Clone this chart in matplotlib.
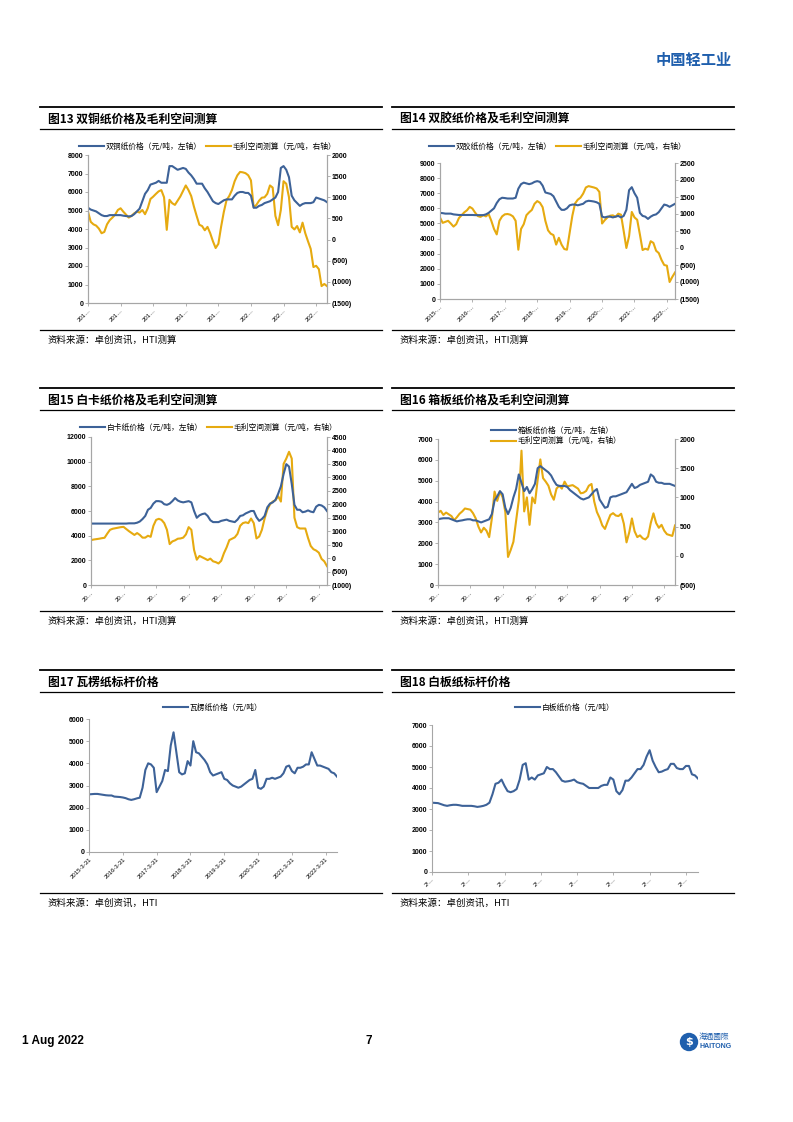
import numpy as np
import matplotlib
matplotlib.use("Agg")
import matplotlib.pyplot as plt
from matplotlib.lines import Line2D
from matplotlib.patches import Ellipse
from matplotlib.ticker import MultipleLocator, FuncFormatter

plt.rcParams['font.family'] = ['Noto Sans CJK SC', 'DejaVu Sans']

# monthly data, 2015-03 .. 2022-07 (元/吨)
c13_price = [5150, 5050, 5000, 4950, 4850, 4750, 4700, 4700, 4750, 4750, 4750, 4750, 4750, 4720, 4700,
             4680, 4700, 4800, 4950, 5100, 5500, 5900, 6100, 6400, 6450, 6500, 6600, 6500, 6500, 6500,
             7400, 7400, 7300, 7200, 7250, 7300, 7250, 7050, 6900, 6700, 6450, 6450, 6450, 6200, 6000,
             5750, 5500, 5400, 5350, 5450, 5550, 5600, 5600, 5600, 5800, 5950, 6000, 6000, 5950, 5950,
             5800, 5150, 5150, 5250, 5300, 5400, 5450, 5500, 5600, 5700, 6000, 7300, 7400, 7200, 6800,
             5800, 5550, 5400, 5250, 5350, 5400, 5400, 5400, 5450, 5700, 5650, 5600, 5550, 5450]
c13_margin = [660, 420, 360, 330, 260, 150, 180, 360, 460, 520, 590, 700, 740, 660, 590,
              520, 560, 620, 660, 640, 700, 600, 740, 960, 1015, 1080, 1140, 1170, 1000, 230,
              940, 860, 820, 920, 1020, 1150, 1280, 1170, 1030, 780, 560, 350, 320, 220, 300,
              150, -40, -200, -100, 300, 650, 930, 1030, 1170, 1380, 1520, 1600, 1590, 1570, 1520,
              1400, 760, 820, 920, 990, 1000, 1080, 1280, 1230, 560, 340, 700, 1380, 1320, 1000,
              300, 240, 320, 170, 400, 150, -40, -220, -650, -620, -700, -1100, -1050, -1100]

c14_price = [5700, 5680, 5650, 5650, 5650, 5600, 5580, 5560, 5560, 5560, 5560, 5560, 5560, 5550, 5550,
             5550, 5550, 5600, 5700, 5850, 6000, 6350, 6600, 6700, 6680, 6650, 6650, 6650, 6700, 7300,
             7600, 7700, 7650, 7600, 7650, 7750, 7800, 7750, 7500, 7050, 7000, 6950, 6800, 6450, 6100,
             5900, 5900, 6000, 6200, 6250, 6250, 6200, 6250, 6300, 6450, 6500, 6480, 6450, 6400, 6300,
             5450, 5400, 5450, 5450, 5400, 5450, 5500, 5400, 5500, 5900, 7200, 7400, 7000, 6700, 5700,
             5500, 5450, 5300, 5450, 5550, 5600, 5750, 6000, 6250, 6200, 6100, 6200, 6300]
c14_margin = [896, 740, 770, 800, 720, 630, 700, 880, 965, 1050, 1110, 1210, 1160, 1040, 940,
              915, 965, 930, 1000, 800, 560, 400, 800, 930, 990, 1000, 980, 930, 800, -50,
              560, 700, 965, 1050, 1120, 1300, 1380, 1330, 1200, 800, 520, 420, 380, 100, 300,
              100, -30, -50, 450, 950, 1310, 1420, 1480, 1600, 1780, 1820, 1800, 1780, 1750, 1650,
              720, 820, 900, 950, 960, 915, 1010, 980, 500, 0, 350, 1060, 900, 830, 400,
              -60, -20, -50, 200, 150, -80, -150, -350, -500, -520, -1000, -850, -720]

c15_price = [4980, 4980, 4980, 4980, 4980, 4980, 4980, 4980, 4980, 4980, 4980, 4980, 4980, 4980, 5000,
             5000, 5000, 5050, 5150, 5350, 5600, 6100, 6250, 6600, 6800, 6800, 6750, 6550, 6500, 6600,
             6800, 7050, 6850, 6750, 6700, 6750, 6800, 6700, 6000, 5450, 5650, 5750, 5800, 5600, 5250,
             5100, 5100, 5100, 5200, 5250, 5300, 5200, 5150, 5100, 5300, 5600, 5650, 5800, 5900, 6000,
             6000, 5500, 5200, 5350, 5600, 6300, 6600, 6700, 6900, 7400, 8000, 9000, 9800, 9600, 8200,
             6500, 6100, 6100, 5900, 5950, 6050, 5950, 5900, 6350, 6500, 6450, 6300, 6000]
c15_margin = [668, 690, 705, 720, 740, 755, 910, 1050, 1090, 1110, 1130, 1150, 1160, 1080, 1000,
              930, 860, 930, 860, 760, 760, 830, 790, 1200, 1420, 1460, 1420, 1300, 1050, 520,
              620, 660, 720, 730, 760, 880, 1150, 1050, 300, -60, 80, 30, -20, -75, -20,
              -120, -150, -200, -100, 180, 400, 670, 720, 770, 900, 1200, 1300, 1330, 1300, 1470,
              1300, 730, 800, 1050, 1470, 1800, 2000, 2100, 2150, 2300, 2100, 3500, 3700, 3950, 3700,
              1500, 1150, 1100, 1100, 1100, 750, 450, 330, 280, 200, -30, -120, -300]

c16_price = [3150, 3180, 3200, 3200, 3200, 3150, 3100, 3050, 3080, 3100, 3130, 3150, 3150, 3100, 3100,
             3050, 3000, 3050, 3100, 3150, 3400, 4050, 4250, 4500, 4350, 3700, 3400, 3700, 4200, 4600,
             5300, 4900, 4500, 4700, 4400, 4600, 4850, 5600, 5700, 5600, 5500, 5400, 5250, 5000, 4800,
             4750, 4750, 4750, 4700, 4550, 4450, 4350, 4250, 4150, 4100, 4150, 4200, 4350, 4500, 4600,
             4100, 3900, 3700, 3750, 4200, 4250, 4250, 4300, 4350, 4400, 4450, 4650, 4850, 4650, 4700,
             4800, 4850, 4900, 4950, 5300, 5200, 4950, 4900, 4900, 4850, 4850, 4850, 4800, 4750]
c16_margin = [740, 770, 700, 740, 710, 680, 610, 660, 720, 760, 810, 800, 790, 730, 640,
              500, 400, 480, 430, 320, 640, 1100, 940, 1100, 1000, 750, -20, 100, 240, 600,
              950, 1800, 760, 1000, 530, 1000, 900, 1300, 1650, 1330, 1270, 1200, 1050, 960, 1150,
              1200, 1150, 1270, 1190, 1200, 1210, 1180, 1150, 1070, 1080, 1110, 1200, 1230, 930, 750,
              650, 520, 460, 585, 700, 730, 690, 680, 720, 550, 230, 400, 640, 420, 320,
              350, 300, 280, 330, 560, 727, 560, 480, 530, 430, 370, 355, 340, 520]

c17_price = [2600, 2610, 2620, 2620, 2600, 2580, 2560, 2550, 2550, 2500, 2490, 2480, 2460, 2430, 2380,
             2350, 2380, 2420, 2450, 2900, 3700, 4000, 3950, 3800, 2700, 2950, 3200, 3700, 3650, 4800,
             5400, 4500, 3600, 3500, 3550, 4100, 3900, 5000, 4500, 4450, 4300, 4150, 3950, 3600, 3450,
             3500, 3550, 3600, 3300, 3250, 3100, 3000, 2950, 2900, 2950, 3050, 3150, 3250, 3300, 3700,
             2900, 2850, 2950, 3300, 3300, 3350, 3300, 3350, 3400, 3550, 3850, 3900, 3650, 3550, 3800,
             3800, 3850, 3950, 3950, 4500, 4200, 3900, 3900, 3850, 3800, 3750, 3600, 3550, 3400]

c18_price = [3300, 3290, 3280, 3230, 3180, 3150, 3180, 3200, 3200, 3180, 3150, 3150, 3150, 3150, 3130,
             3100, 3120, 3150, 3200, 3300, 3700, 4200, 4250, 4400, 4100, 3850, 3800, 3850, 3950, 4400,
             5100, 5180, 4400, 4500, 4400, 4600, 4650, 4700, 5000, 4900, 4900, 4750, 4550, 4350, 4300,
             4320, 4350, 4400, 4280, 4230, 4200, 4100, 4000, 4000, 4000, 4000, 4100, 4150, 4150, 4500,
             4400, 3850, 3700, 3900, 4350, 4350, 4500, 4700, 4900, 4900, 5100, 5500, 5800, 5300, 5000,
             4750, 4780, 4850, 4900, 5150, 5150, 4950, 4900, 4900, 5050, 5050, 4650, 4600, 4450]

years = ['2015', '2016', '2017', '2018', '2019', '2020', '2021', '2022']
lab13 = [y[:3] + '…' for y in years]
lab14 = [y + '-…' for y in years]
lab1516 = ['20…'] * 8
lab17 = [y + '-3-31' for y in years]
lab18 = ['2/…'] * 8

BLUE = '#3D6298'
GOLD = '#E6AA10'
SPINE = '#A6A6A6'
W, H = 793, 1122

fig = plt.figure(figsize=(W / 100, H / 100), dpi=100)


def box(l, t, r, b):
    return [l / W, 1 - b / H, (r - l) / W, (b - t) / H]


def hline(x0, x1, y, lw):
    fig.add_artist(Line2D([x0 / W, x1 / W], [1 - y / H, 1 - y / H], color='black', lw=lw))


def panel(x0, top, title, src):
    x1 = x0 + 342
    hline(x0, x1, top, 1.3)
    fig.text((x0 + 8) / W, 1 - (top + 12) / H, title, fontsize=8.5, fontweight='heavy', va='center')
    hline(x0, x1, top + 22, 0.9)
    hline(x0, x1, top + 223, 0.9)
    fig.text((x0 + 8) / W, 1 - (top + 233) / H, src, fontsize=6.8, va='center')


def paren(v, pos):
    return '(%d)' % -v if v < 0 else '%d' % v


def style(ax, labels, n, ylim, step):
    ax.set_xlim(0, n - 1)
    ax.set_ylim(*ylim)
    ax.yaxis.set_major_locator(MultipleLocator(step))
    ax.set_xticks(np.arange(0, n, 12)[:len(labels)])
    ax.set_xticklabels(labels, rotation=45, ha='right', rotation_mode='anchor', fontsize=4.3,
                       family='Liberation Sans')
    ax.spines['top'].set_visible(False)
    for s in ['left', 'right', 'bottom']:
        ax.spines[s].set_color(SPINE)
        ax.spines[s].set_linewidth(0.8)
    ax.tick_params(axis='both', length=2, width=0.6, color=SPINE, pad=1.5)
    for t in ax.get_yticklabels():
        t.set_fontsize(5)
        t.set_fontweight('bold')
        t.set_family('Liberation Sans')


def twin_right(ax, ylim, step):
    ax2 = ax.twinx()
    ax2.set_ylim(*ylim)
    ax2.yaxis.set_major_locator(MultipleLocator(step))
    ax2.yaxis.set_major_formatter(FuncFormatter(paren))
    ax2.spines['top'].set_visible(False)
    for s in ['left', 'right', 'bottom']:
        ax2.spines[s].set_color(SPINE)
        ax2.spines[s].set_linewidth(0.8)
    ax2.tick_params(axis='y', length=2, width=0.6, color=SPINE, pad=1.5)
    for t in ax2.get_yticklabels():
        t.set_fontsize(5)
        t.set_fontweight('bold')
        t.set_family('Liberation Sans')
    return ax2


def dual(rect, price, margin, name, labels, ylim, step, y2lim, step2, leg_y, ncol=2):
    ax = fig.add_axes(rect)
    n = len(price)
    x = np.arange(n)
    l1, = ax.plot(x, price, color=BLUE, lw=1.5, label=name + '（元/吨，左轴）')
    style(ax, labels, n, ylim, step)
    ax2 = twin_right(ax, y2lim, step2)
    l2, = ax2.plot(x, margin, color=GOLD, lw=1.5, label='毛利空间测算（元/吨，右轴）')
    ax.set_zorder(ax2.get_zorder() + 1)
    ax.patch.set_visible(False)
    ax.legend(handles=[l1, l2], loc='center', bbox_to_anchor=(0.5, leg_y), ncol=ncol,
              frameon=False, fontsize=5.6, handlelength=3.2, handletextpad=0.2,
              columnspacing=0.6, labelspacing=0.3, borderpad=0)
    return ax


def single(rect, price, name, labels, ylim, step, leg_y):
    ax = fig.add_axes(rect)
    n = len(price)
    ax.plot(np.arange(n), price, color=BLUE, lw=1.5, label=name)
    style(ax, labels, n, ylim, step)
    ax.spines['right'].set_visible(False)
    ax.legend(loc='center', bbox_to_anchor=(0.5, leg_y), frameon=False, fontsize=5.6,
              handlelength=3.2, handletextpad=0.2, borderpad=0)
    return ax


# page header / footer
fig.text(732 / W, 1 - 60 / H, '中国轻工业', fontsize=11, fontweight='bold', color='#1F5FAD',
         ha='right', va='center')
fig.text(22 / W, 1 - 1041 / H, '1 Aug 2022', fontsize=8.5, fontweight='bold', va='center',
         family='Liberation Sans')
fig.text(366 / W, 1 - 1041 / H, '7', fontsize=8.5, fontweight='bold', va='center',
         family='Liberation Sans')
fig.add_artist(Ellipse((689 / W, 1 - 1042 / H), 17 / W, 17 / H, color='#1F5FAD',
                       transform=fig.transFigure))
fig.text(689 / W, 1 - 1042 / H, '$', fontsize=8, color='white', ha='center', va='center',
         fontweight='bold', family='DejaVu Sans')
fig.text(699 / W, 1 - 1037 / H, '海通國際', fontsize=5.5, color='#1F5FAD', va='center',
         family=['Noto Sans CJK TC', 'DejaVu Sans'])
fig.text(699 / W, 1 - 1047 / H, 'HAITONG', fontsize=5, color='#1F5FAD', va='center',
         fontweight='bold', family='Liberation Sans')

src1 = '资料来源：卓创资讯，HTI测算'
src2 = '资料来源：卓创资讯，HTI'
panel(40, 107, '图13 双铜纸价格及毛利空间测算', src1)
panel(392, 107, '图14 双胶纸价格及毛利空间测算', src1)
panel(40, 388, '图15 白卡纸价格及毛利空间测算', src1)
panel(392, 388, '图16 箱板纸价格及毛利空间测算', src1)
panel(40, 670, '图17 瓦楞纸标杆价格', src2)
panel(392, 670, '图18 白板纸标杆价格', src2)

dual(box(88, 155, 327, 303), c13_price, c13_margin, '双铜纸价格', lab13,
     (0, 8000), 1000, (-1500, 2000), 500, 1 + 8 / 148)
dual(box(440, 163, 675, 299), c14_price, c14_margin, '双胶纸价格', lab14,
     (0, 9000), 1000, (-1500, 2500), 500, 1 + 16 / 136)
dual(box(91, 437, 327, 585), c15_price, c15_margin, '白卡纸价格', lab1516,
     (0, 12000), 2000, (-1000, 4500), 500, 1 + 9 / 148)
dual(box(438, 439, 675, 585), c16_price, c16_margin, '箱板纸价格', lab1516,
     (0, 7000), 1000, (-500, 2000), 500, 1 + 3 / 146, ncol=1)
single(box(89, 719, 337, 852), c17_price, '瓦楞纸价格（元/吨）', lab17, (0, 6000), 1000, 1 + 11 / 133)
single(box(432, 725, 698, 872), c18_price, '白板纸价格（元/吨）', lab18, (0, 7000), 1000, 1 + 17 / 147)

fig.savefig('out.png', dpi=100)
